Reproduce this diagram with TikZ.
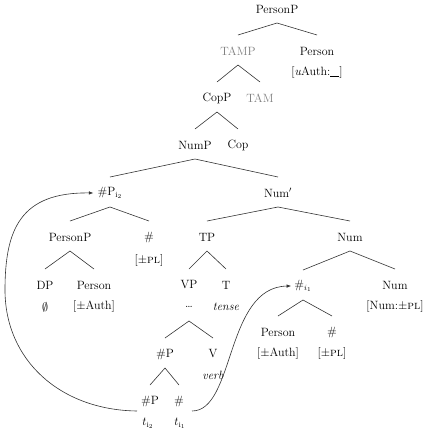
\documentclass[tikz,border=0pt]{standalone}
\usepackage{fontspec}
\usetikzlibrary{arrows.meta}
\begin{document}
\begin{tikzpicture}[x=1pt,y=-1pt,
  every node/.style={font=\fontsize{12}{14}\selectfont, inner sep=0pt, anchor=center},
  dim/.style={text=black!50},
  br/.style={draw=black!80, line width=0.6pt},
  mv/.style={draw=black!80, line width=0.6pt, -{Latex[length=4.5pt,width=3.5pt]}}]
\useasboundingbox (0,0) rectangle (425,432);
% nodes
\node (pP) at (277,9) {PersonP};
\node[dim] (tamp) at (238,51) {TAMP};
\node (per1) at (317,51) {Person};
\node (f1) at (317,72) {[\textit{u}Auth:\rule[-1pt]{9pt}{0.5pt}]};
\node (copP) at (217,98) {CopP};
\node[dim] (tam) at (260,98) {TAM};
\node (numP) at (195,145) {NumP};
\node (cop) at (238,145) {Cop};
\node (hP) at (110,193) {\#P$_{\mathrm{i}_2}$};
\node (numbar) at (278,193) {Num$'$};
\node (pP2) at (70,237) {PersonP};
\node (h1) at (149,237) {\#};
\node (f2) at (149,260) {[$\pm$\textsc{pl}]};
\node (tp) at (207,237) {TP};
\node (num) at (350,237) {Num};
\node (dp) at (45,285) {DP};
\node (per2) at (94,285) {Person};
\node (vp) at (189,285) {VP};
\node (t) at (226,285) {T};
\node (hi1) at (303,286) {\#$_{i_1}$};
\node (num2) at (395,285) {Num};
\node (emp) at (45,307) {$\emptyset$};
\node (f3) at (94,306) {[$\pm$Auth]};
\node (dots) at (189,307) {\dots};
\node (tense) at (226,307) {\textit{tense}};
\node (f4) at (395,306) {[Num:$\pm$\textsc{pl}]};
\node (per3) at (278,332) {Person};
\node (h2) at (332,332) {\#};
\node (hP2) at (165,354) {\#P};
\node (v) at (213,354) {V};
\node (f5) at (278,353) {[$\pm$Auth]};
\node (f6) at (332,353) {[$\pm$\textsc{pl}]};
\node (verb) at (213,375) {\textit{verb}};
\node (hP3) at (150,401) {\#P};
\node (h3) at (179,401) {\#};
\node (ti2) at (148,423) {$t_{\mathrm{i}_2}$};
\node (ti1) at (180,423) {$t_{\mathrm{i}_1}$};
% branches
\foreach \p/\a/\b in {pP/tamp/per1, tamp/copP/tam, copP/numP/cop, numP/hP/numbar,
  hP/pP2/h1, numbar/tp/num, pP2/dp/per2, tp/vp/t, num/hi1/num2, hi1/per3/h2,
  dots/hP2/v, hP2/hP3/h3}
  \draw[br] ([yshift=16pt]\a.center) -- ([yshift=-14pt]\p.center) -- ([yshift=16pt]\b.center);
% movement arrows
\coordinate (s2) at (137,411);
\coordinate (lm) at (5,290);
\coordinate (s1) at (192,411);
\draw[mv] (s2) .. controls (60,410) and (5,360) .. (lm)
  .. controls (5,230) and (20,192) .. ([xshift=-4pt]hP.west);
\draw[mv] (s1) .. controls (235,411) and (225,287) .. ([xshift=-3pt]hi1.west);
\end{tikzpicture}
\end{document}
